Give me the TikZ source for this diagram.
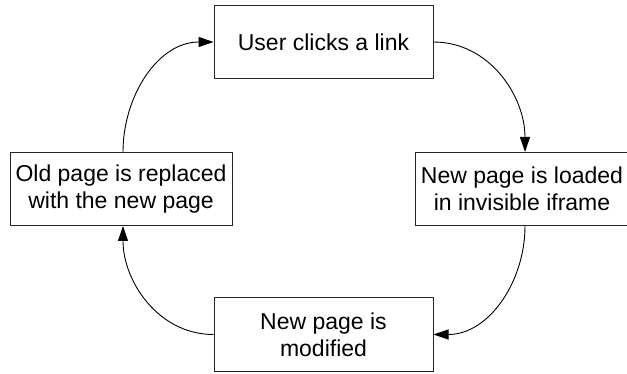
\documentclass[tikz,border=0pt]{standalone}
\usepackage{fontspec}
\setmainfont{Liberation Sans}
\usetikzlibrary{arrows.meta}
\begin{document}
\begin{tikzpicture}[x=1pt,y=-1pt,
  stage/.style={draw=black!85, line width=1pt, fill=white, inner sep=0pt,
    minimum height=73pt, align=center,
    font=\fontsize{23}{27}\selectfont},
  flow/.style={line width=0.9pt, -{Triangle[length=15pt,width=10pt]}}]
  \useasboundingbox (0,0) rectangle (627,374);
  \node[stage, minimum width=219pt] (click) at (323.5,42) {User clicks a link};
  \node[stage, minimum width=214pt] (load) at (522,189) {New page is loaded\\in invisible iframe};
  \node[stage, minimum width=219pt] (modify) at (323.5,334.5) {New page is\\modified};
  \node[stage, minimum width=222pt] (replace) at (121,189) {Old page is replaced\\with the new page};
  \draw[flow] (click.east) to[out=0,in=90] ([xshift=3pt]load.north);
  \draw[flow] ([xshift=3pt]load.south) to[out=-90,in=0] (modify.east);
  \draw[flow] (modify.west) to[out=180,in=-90] ([xshift=2pt]replace.south);
  \draw[flow] ([xshift=2pt]replace.north) to[out=90,in=180] (click.west);
\end{tikzpicture}
\end{document}
